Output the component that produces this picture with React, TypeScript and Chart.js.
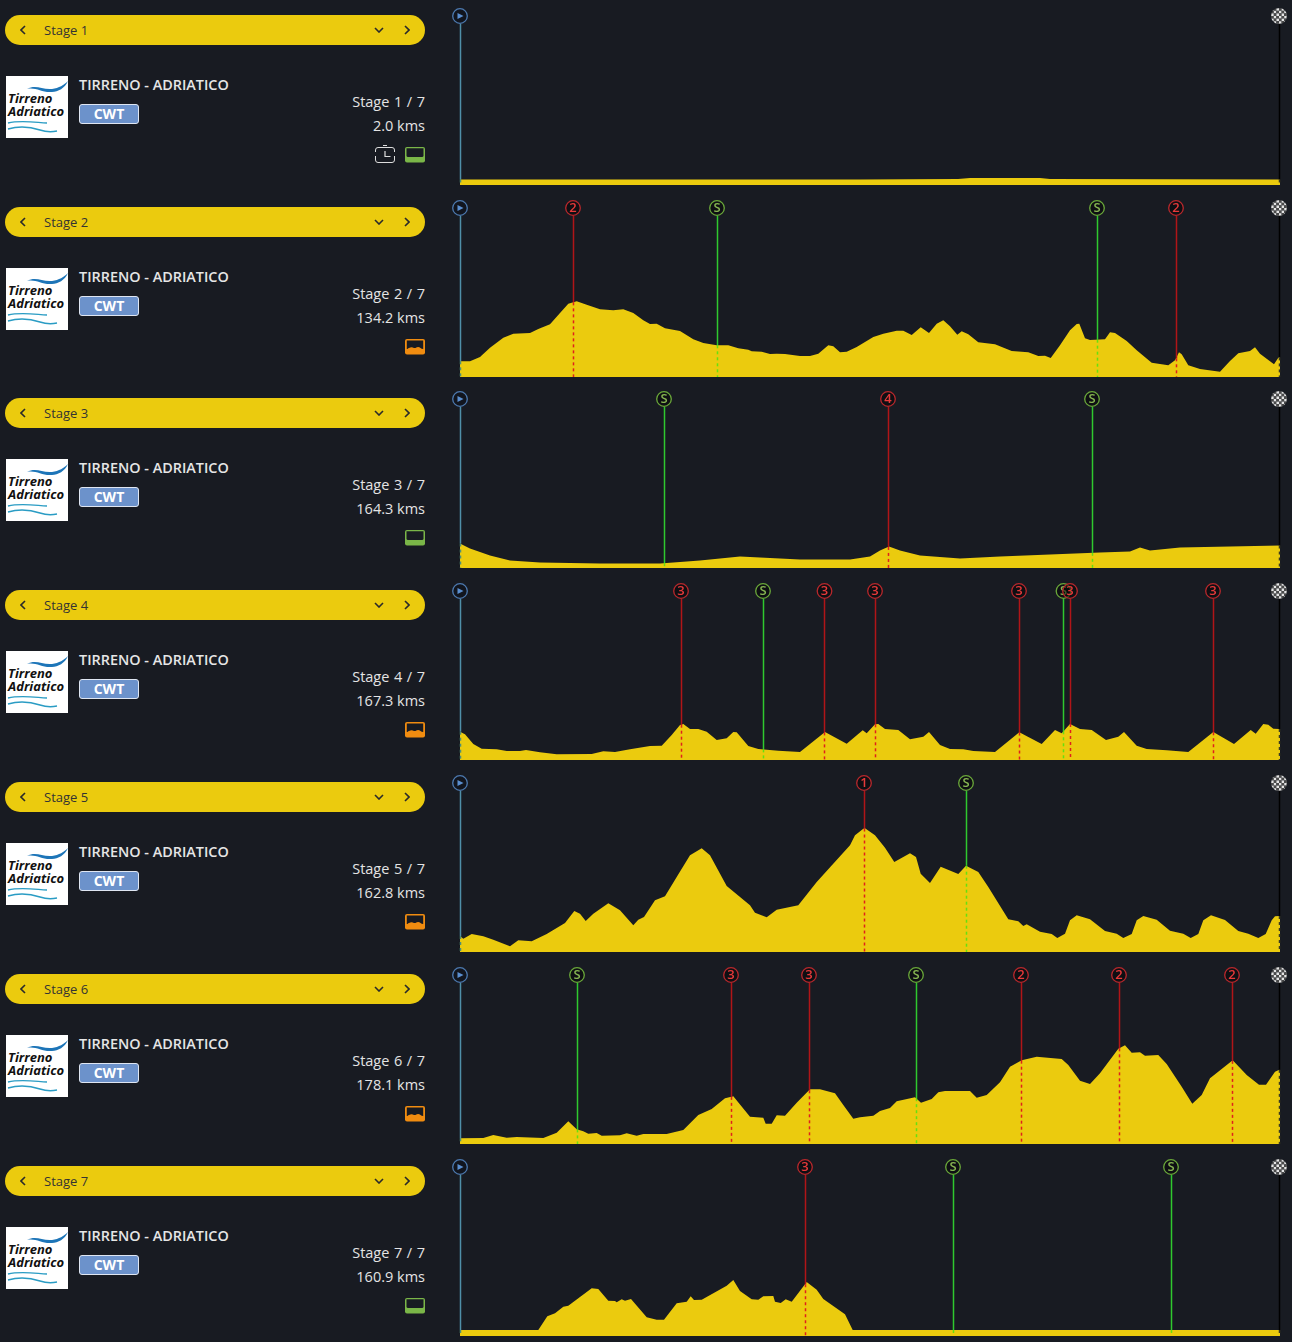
import React, { useEffect, useRef } from "react";
import { Chart, registerables } from "chart.js";

Chart.register(...registerables);

// Every profile: distance along the stage (0-820 profile units) and elevation (profile units)
const stage1Dist = [0, 400, 498, 510, 580, 590, 820];
const stage1Elev = [5.5, 5.5, 6, 7, 7, 6, 5.5];
const stage2Dist = [0, 10, 20, 30, 43.3, 53.3, 70, 78.3, 90, 100, 108.3, 116.7, 126.7, 140, 153.3, 163.3, 173.3, 183.3, 190, 196.7, 205, 220, 233.3, 243.3, 256.7, 268.3, 278.3, 288.3, 291.7, 301.7, 310, 316.7, 325, 340, 350, 358.3, 368.3, 373.3, 380, 386.7, 396.7, 413.3, 423.3, 436.7, 443.3, 451.7, 460.7, 469, 476.7, 483.3, 490, 497.3, 501.7, 508.3, 518.3, 535, 551.7, 568.3, 578.3, 585, 590.7, 600, 610, 616.7, 619.3, 625, 630, 645, 650, 655, 666.7, 676.7, 691.7, 708.3, 715, 719, 721.7, 728.3, 740, 760, 770, 778.3, 790, 795, 800, 814, 818.3, 820];
const stage2Elev = [15.7, 15.7, 20, 29.3, 39.3, 43.3, 44, 48, 52.7, 64, 73.3, 75.7, 72.3, 67.7, 66.7, 67.7, 64, 56.7, 53, 53.3, 48.7, 46, 37.7, 34, 31.7, 31.7, 28.7, 27.3, 25.7, 25.3, 23, 23.3, 23, 21, 21, 23.3, 31.7, 30.7, 24.7, 25.3, 30, 40, 43.3, 46.3, 46.3, 42, 49.7, 44, 53.3, 56.7, 50.7, 42.3, 45.7, 42.7, 34.7, 32.7, 26, 24.7, 21, 21.3, 19, 31.7, 46.7, 53, 53.3, 38.7, 37, 37.7, 44.7, 44, 36, 26.7, 14.3, 11.7, 16.7, 24.7, 22.7, 11.7, 8, 5.3, 16, 23.7, 26, 29.7, 23.3, 12.7, 19.3, 20];
const stage3Dist = [0, 10, 30, 50, 80, 140, 200, 240, 280, 300, 340, 390, 410, 420, 429, 440, 460, 500, 540, 590, 640, 670, 680, 690, 720, 770, 820];
const stage3Elev = [24.5, 19.5, 12.5, 7.5, 5.5, 4.5, 4.5, 7.5, 11.5, 10.5, 8.5, 8.5, 11.5, 17.5, 21.5, 17.5, 12.5, 9.5, 11.5, 13.5, 15.5, 16.5, 20.5, 17.5, 20.5, 21.5, 22.5];
const stage4Dist = [0, 5, 13.3, 21.7, 36.7, 46.7, 60, 66, 80, 96.7, 131.7, 143.3, 155, 170, 190, 201.7, 211.7, 220, 223.3, 230, 238.3, 246.7, 256.7, 266.7, 273.3, 276.7, 288.3, 298.3, 318.3, 340, 365, 386.7, 402.7, 406.7, 415, 418.3, 425, 438.3, 450, 463.3, 469, 480, 490, 503.3, 513.3, 535, 559.3, 581.7, 595, 601.7, 610, 620, 631.7, 646, 658.3, 664, 676.7, 686.7, 706.7, 728.3, 753.3, 774, 790.7, 795.7, 803.3, 808.3, 813.3, 819.3, 820];
const stage4Elev = [28.3, 25.7, 16, 11.3, 10.7, 9, 9, 10, 7.7, 5.7, 6, 8.7, 8, 10.7, 14, 14.3, 25, 35, 36, 31, 31, 28.3, 20, 21.7, 28, 27.7, 14, 11, 9.3, 8, 28, 16.3, 29.7, 26.7, 35.7, 36, 31, 30, 20.7, 23.3, 28, 15, 11, 10.7, 9, 8, 27.7, 16, 30, 26.7, 36, 31, 30, 20, 23.3, 28, 14.3, 11, 9.7, 8, 28, 16, 30, 26.3, 36, 35.3, 31.3, 31, 31];
const stage5Dist = [0, 3.3, 11.7, 23.3, 33.3, 50, 58.3, 71.7, 86.7, 105, 114.3, 120, 125.7, 133.3, 148.3, 160, 173.3, 178.3, 184, 195, 205, 216.7, 230, 241.7, 250, 266.7, 290, 295, 306.7, 316.7, 338.3, 356.7, 390, 395, 403.3, 405, 415, 425, 434.3, 450, 456, 460.7, 470, 480.7, 498.3, 506, 518.3, 528.3, 548.3, 558.3, 563.3, 566.7, 580, 591.7, 597.3, 605, 610, 616.7, 630, 645, 656.7, 663.3, 671.7, 676.7, 683.3, 696.7, 710, 723.3, 730.7, 738.3, 743.3, 751, 765, 778.3, 788.3, 798.3, 805.7, 811.7, 815, 819.3, 820];
const stage5Elev = [16, 13.3, 18, 15.7, 12.3, 5.7, 11.7, 10.7, 18, 29, 41, 38.3, 31, 38.3, 48.7, 41.7, 26.7, 32.3, 35, 51.7, 55.7, 75, 96.7, 103.7, 96.7, 66, 46.7, 39.3, 34.7, 42.3, 46.7, 70, 106.7, 116.7, 123.3, 123.7, 116.7, 104.3, 90, 98.7, 95, 78.3, 69, 85.3, 78, 86.3, 80, 65, 32.7, 30.7, 26, 27.7, 20.3, 18, 14, 18.3, 31.7, 36.7, 32.7, 21, 18.3, 14, 18, 31.7, 36, 32.3, 21.3, 18.3, 14, 18, 31.7, 36.7, 32, 21, 18.3, 14, 18, 31.7, 35.7, 36, 36];
const stage6Dist = [0, 23.3, 33.3, 46.7, 56.7, 83.3, 96.7, 108.3, 116.7, 123.3, 128.3, 136.7, 141.7, 160, 166.7, 176.7, 183.3, 206.7, 223.3, 238.3, 251.7, 265, 273.3, 290, 303.3, 305.7, 311.7, 316.7, 325, 336.7, 350, 360, 375, 383.3, 393.3, 400, 413.3, 420, 430, 436.7, 455, 461, 471.7, 478.3, 485, 510, 516.7, 526.7, 540, 550, 561.7, 576.7, 601.7, 608.3, 620, 630, 640, 658.3, 665, 671.7, 680, 685, 698.3, 706.7, 721.7, 732.3, 741.7, 750, 772.7, 786.7, 799, 806, 815, 819.3, 820];
const stage6Elev = [5.7, 6, 9, 6.3, 7, 6, 11.3, 22.7, 14.7, 12.7, 10.3, 11, 8.3, 8.7, 10.7, 8.3, 10, 10, 14, 29, 35, 45.7, 47.7, 27.3, 26.3, 20.3, 20.3, 28.7, 28.3, 41.3, 54.7, 54.7, 50.7, 39, 25.3, 26.7, 28.3, 33, 36, 42.7, 46.7, 41.3, 45, 51.7, 53, 53, 46.3, 49, 61.7, 77.3, 83.7, 87.3, 85, 79, 63.3, 60, 70.7, 95.3, 98.7, 91.3, 91.7, 88.3, 89, 80, 57.3, 40.3, 49, 65.7, 83.7, 69, 59.3, 59.3, 72.3, 74.3, 74.3];
const stage7Dist = [0, 78.3, 87.3, 95, 103.3, 108.3, 131.7, 138.3, 148.3, 155, 156.7, 161.7, 165, 171, 186.7, 196.7, 204, 216.7, 226.7, 230.7, 234, 241.7, 266.7, 273.3, 280, 291.7, 298.3, 303.3, 313.3, 315, 320.7, 325.7, 331.7, 346.7, 356.7, 363.3, 385, 392.7, 820];
const stage7Elev = [6, 6, 19.7, 22.7, 29.3, 30.3, 47.7, 47, 35.3, 35, 33.7, 36.7, 35.3, 37, 18.7, 16.3, 16.3, 32.7, 34.3, 39.7, 36, 36.3, 50.3, 56, 45, 36.7, 36.3, 39.7, 40, 34.3, 33, 36.7, 34.3, 54, 46.3, 37, 21.7, 6, 6];

// Climb and sprint points on each stage
const stage1MarkDist: number[] = [];
const stage1MarkKind: string[] = [];
const stage2MarkDist = [113, 257, 637, 716];
const stage2MarkKind = ["2", "S", "S", "2"];
const stage3MarkDist = [204, 428, 632];
const stage3MarkKind = ["S", "4", "S"];
const stage4MarkDist = [221, 303, 364.5, 415, 559, 603.5, 610, 753];
const stage4MarkKind = ["3", "S", "3", "3", "3", "S", "3", "3"];
const stage5MarkDist = [404, 506];
const stage5MarkKind = ["1", "S"];
const stage6MarkDist = [117, 271, 349, 456, 561, 659, 772];
const stage6MarkKind = ["S", "3", "3", "S", "2", "2", "2"];
const stage7MarkDist = [345, 493, 711];
const stage7MarkKind = ["3", "S", "S"];

const stageNumbers = [1, 2, 3, 4, 5, 6, 7];
const stageKms = ["2.0", "134.2", "164.3", "167.3", "162.8", "178.1", "160.9"];
const stageTerrain = ["flat", "hilly", "flat", "hilly", "hilly", "hilly", "flat"];
const profileDist = [stage1Dist, stage2Dist, stage3Dist, stage4Dist, stage5Dist, stage6Dist, stage7Dist];
const profileElev = [stage1Elev, stage2Elev, stage3Elev, stage4Elev, stage5Elev, stage6Elev, stage7Elev];
const markDist = [stage1MarkDist, stage2MarkDist, stage3MarkDist, stage4MarkDist, stage5MarkDist, stage6MarkDist, stage7MarkDist];
const markKind = [stage1MarkKind, stage2MarkKind, stage3MarkKind, stage4MarkKind, stage5MarkKind, stage6MarkKind, stage7MarkKind];

const BG = "#181b22";
const YELLOW = "#ebcb0e";
const FONT = "'Open Sans', sans-serif";
const pillTops = [15, 207, 398, 590, 782, 974, 1166];
const markerTops = [16, 208, 399, 591, 783, 975, 1167];
const DIST_MAX = 820;
const FINISH_DIST = 819;
const ELEV_MAX = 169;

function elevAt(dist: number[], elev: number[], x: number) {
  for (let i = 1; i < dist.length; i++) {
    if (x <= dist[i]) {
      const t = (x - dist[i - 1]) / (dist[i] - dist[i - 1]);
      return elev[i - 1] + t * (elev[i] - elev[i - 1]);
    }
  }
  return elev[elev.length - 1];
}

function drawMarker(chart: any, x: number, kind: string, dist: number[], elev: number[]) {
  const { ctx, scales } = chart;
  const px = scales.x.getPixelForValue(x);
  const col = Math.floor(px) + 0.5;
  const top = scales.y.getPixelForValue(ELEV_MAX);
  const ground = scales.y.getPixelForValue(0);
  const surface = scales.y.getPixelForValue(elevAt(dist, elev, x));
  const palette: Record<string, string[]> = {
    start: ["#4f8fa8", "#4f8f78", "#4d7ab0", "#5b8fd0"],
    finish: ["#000000", "#3a3a20", "#000000", "#000000"],
    S: ["#2fc92f", "#66e010", "#6aa83a", "#86b552"],
    climb: ["#b01518", "#e0201c", "#b8282c", "#e63a3a"],
  };
  const key = kind === "start" || kind === "finish" || kind === "S" ? kind : "climb";
  const [solid, dashed, ring, ink] = palette[key];
  ctx.save();
  ctx.lineWidth = 1.5;
  ctx.strokeStyle = solid;
  ctx.beginPath();
  ctx.moveTo(col, top + 8);
  ctx.lineTo(col, surface);
  ctx.stroke();
  ctx.strokeStyle = dashed;
  ctx.setLineDash([3, 3]);
  ctx.beginPath();
  ctx.moveTo(col, surface);
  ctx.lineTo(col, ground);
  ctx.stroke();
  ctx.setLineDash([]);

  if (kind === "finish") {
    ctx.save();
    ctx.beginPath();
    ctx.arc(px, top, 8, 0, Math.PI * 2);
    ctx.clip();
    const cell = 2.6;
    for (let r = -4; r < 4; r++) {
      for (let c = -4; c < 4; c++) {
        ctx.fillStyle = (r + c) % 2 === 0 ? "#e4e4e4" : "#4a4a4a";
        ctx.fillRect(px + c * cell, top + r * cell, cell, cell);
      }
    }
    ctx.restore();
  } else {
    ctx.beginPath();
    ctx.arc(px, top, 7.3, 0, Math.PI * 2);
    ctx.fillStyle = kind === "start" ? "rgba(16,20,30,0.8)" : "rgba(8,6,8,0.55)";
    ctx.fill();
    ctx.lineWidth = 1.3;
    ctx.strokeStyle = ring;
    ctx.stroke();
    if (kind === "start") {
      ctx.fillStyle = ink;
      ctx.beginPath();
      ctx.moveTo(px - 2.5, top - 3);
      ctx.lineTo(px + 3.5, top);
      ctx.lineTo(px - 2.5, top + 3);
      ctx.closePath();
      ctx.fill();
    } else {
      ctx.fillStyle = ink;
      ctx.font = `600 13px ${FONT}`;
      ctx.textAlign = "center";
      ctx.textBaseline = "middle";
      ctx.fillText(kind, px, top + 0.5);
    }
  }
  ctx.restore();
}

function ProfileChart({ index }: { index: number }) {
  const ref = useRef<HTMLCanvasElement>(null);
  useEffect(() => {
    const dist = profileDist[index];
    const elev = profileElev[index];
    const marks = markDist[index];
    const kinds = markKind[index];
    const chart = new Chart(ref.current as HTMLCanvasElement, {
      type: "line",
      data: {
        datasets: [
          {
            data: dist.map((d, i) => ({ x: d, y: elev[i] })),
            fill: "origin",
            backgroundColor: YELLOW,
            borderWidth: 0,
            pointRadius: 0,
            tension: 0,
          },
        ],
      },
      options: {
        animation: false,
        responsive: false,
        devicePixelRatio: 1,
        layout: { padding: { left: 20, right: 12, top: 16, bottom: 1 } },
        plugins: { legend: { display: false }, tooltip: { enabled: false } },
        scales: {
          x: { type: "linear", display: false, min: 0, max: DIST_MAX },
          y: { display: false, min: 0, max: ELEV_MAX },
        },
      },
      plugins: [
        {
          id: "stageMarkers",
          afterDatasetsDraw(c: any) {
            drawMarker(c, 0, "start", dist, elev);
            marks.forEach((m, i) => drawMarker(c, m, kinds[i], dist, elev));
            drawMarker(c, FINISH_DIST, "finish", dist, elev);
          },
        },
      ],
    } as any);
    return () => chart.destroy();
  }, [index]);
  return (
    <canvas
      ref={ref}
      width={852}
      height={186}
      style={{ position: "absolute", left: 440, top: markerTops[index] - 16, width: 852, height: 186 }}
    />
  );
}

function Chevron({ x, y, dir }: { x: number; y: number; dir: "left" | "right" | "down" }) {
  const d =
    dir === "left"
      ? "M5 1 L1 5 L5 9"
      : dir === "right"
      ? "M1 1 L5 5 L1 9"
      : "M1 1 L5 5 L9 1";
  const w = dir === "down" ? 10 : 6;
  const h = dir === "down" ? 6 : 10;
  return (
    <svg
      width={w}
      height={h}
      style={{ position: "absolute", left: x - w / 2, top: y - h / 2 }}
    >
      <path d={d} fill="none" stroke="#2a2a2a" strokeWidth={1.6} />
    </svg>
  );
}

function Logo({ top }: { top: number }) {
  const face = "'Open Sans', sans-serif";
  return (
    <svg width={62} height={62} style={{ position: "absolute", left: 6, top }}>
      <rect width={62} height={62} fill="#fff" />
      <path d="M21 13 C30 8 36 14 46 13 C53 12 58 9 62 5 C59 12 52 16 46 16 C36 17 30 11 21 13 Z" fill="#1d75b8" />
      <text x={2} y={27} fontFamily={face} fontWeight={700} fontStyle="italic" fontSize={13} fill="#111">Tirreno</text>
      <text x={2} y={40} fontFamily={face} fontWeight={700} fontStyle="italic" fontSize={13} fill="#111">Adriatico</text>
      <path d="M2 47 C14 44 26 46 41 47" fill="none" stroke="#2a9cc4" strokeWidth={1.4} />
      <path d="M2 53 C12 50 22 50 34 54 C40 56 46 56 51 55" fill="none" stroke="#2a9cc4" strokeWidth={1.4} />
    </svg>
  );
}

function TerrainIcon({ top, terrain }: { top: number; terrain: string }) {
  const color = terrain === "flat" ? "#7ab648" : "#f08c10";
  const cut =
    terrain === "flat"
      ? "M1.5 1.2 H18.5 V8.5 Q18.5 10 17 10 H3 Q1.5 10 1.5 8.5 Z"
      : "M1.8 1.5 H18.2 V10 C16 10 15 8 13 8 C11.5 8 10.5 9.5 9 9 C7.5 8.3 6 8 4 9 C3 9.5 2.5 10 1.8 10 Z";
  return (
    <svg width={20} height={16} style={{ position: "absolute", left: 405, top }}>
      <rect width={20} height={15.5} rx={2} fill={color} />
      <path d={cut} fill={BG} />
    </svg>
  );
}

function ClockIcon({ top }: { top: number }) {
  return (
    <svg width={20} height={19} style={{ position: "absolute", left: 375, top: top - 2 }}>
      <path d="M3 2.5 H17 Q19.5 2.5 19.5 5 V7 M19.5 11 V15 Q19.5 17.5 17 17.5 H3 Q0.5 17.5 0.5 15 V11 M0.5 7 V5 Q0.5 2.5 3 2.5" fill="none" stroke="#ddd" strokeWidth={1} />
      <path d="M8 0.5 H12 M10 6 V11.5 H15.5" fill="none" stroke="#ddd" strokeWidth={1.2} />
    </svg>
  );
}

function StagePanel({ index }: { index: number }) {
  const t = pillTops[index];
  const label: React.CSSProperties = { position: "absolute", whiteSpace: "nowrap", lineHeight: "20px" };
  return (
    <>
      <div style={{ position: "absolute", left: 5, top: t, width: 420, height: 30, borderRadius: 15, background: YELLOW }} />
      <Chevron x={23} y={t + 15} dir="left" />
      <div style={{ ...label, left: 44, top: t + 5, fontSize: 13, color: "#333" }}>Stage {stageNumbers[index]}</div>
      <Chevron x={379} y={t + 15} dir="down" />
      <Chevron x={407} y={t + 15} dir="right" />
      <Logo top={t + 61} />
      <div style={{ ...label, left: 79, top: t + 60, fontSize: 14.4, fontWeight: 600, color: "#e6e6e6" }}>TIRRENO - ADRIATICO</div>
      <div
        style={{
          position: "absolute",
          left: 79,
          top: t + 89,
          width: 60,
          height: 20,
          boxSizing: "border-box",
          border: "1px solid #dfe6f2",
          borderRadius: 3,
          background: "#6c92cb",
          color: "#fff",
          fontSize: 14,
          fontWeight: 700,
          lineHeight: "17px",
          textAlign: "center",
        }}
      >
        CWT
      </div>
      <div style={{ ...label, right: 1292 - 425, top: t + 77, fontSize: 14.5, wordSpacing: 0.8, color: "#e4e4e4" }}>Stage {stageNumbers[index]} / 7</div>
      <div style={{ ...label, right: 1292 - 425, top: t + 101, fontSize: 14.5, color: "#e4e4e4" }}>{stageKms[index]} kms</div>
      {index === 0 && <ClockIcon top={t + 132} />}
      <TerrainIcon top={t + 132} terrain={stageTerrain[index]} />
    </>
  );
}

export default function App() {
  return (
    <div style={{ position: "absolute", left: 0, top: 0, width: 1292, height: 1342, overflow: "hidden", background: BG, fontFamily: FONT }}>
      <style>{`html,body{margin:0;padding:0;background:${BG};}`}</style>
      {stageNumbers.map((_, i) => (
        <React.Fragment key={i}>
          <StagePanel index={i} />
          <ProfileChart index={i} />
        </React.Fragment>
      ))}
    </div>
  );
}
